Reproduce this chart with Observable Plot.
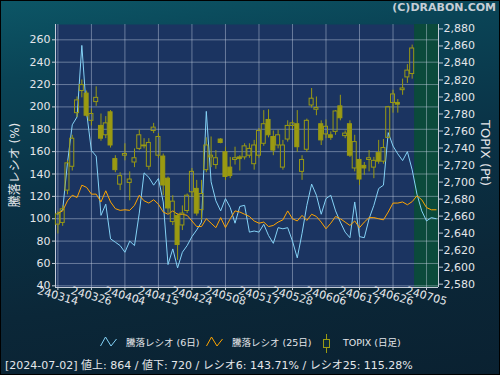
<!DOCTYPE html>
<html><head><meta charset="utf-8">
<script src="https://cdn.jsdelivr.net/npm/d3@7"></script>
<script src="https://cdn.jsdelivr.net/npm/@observablehq/plot@0.6"></script>
<style>
html,body{margin:0;padding:0;background:#000;}
#root{position:relative;width:500px;height:375px;overflow:hidden;
 background:linear-gradient(172deg,#0c5666 0%,#0a4456 18%,#0a3246 45%,#0b2738 72%,#0a2131 100%);
 box-shadow:inset 0 0 0 1px #000;
 font-family:"DejaVu Sans","Noto Sans CJK JP",sans-serif;color:#e4e6ea;}
#chart{position:absolute;left:0;top:0;}
#brand{position:absolute;right:4px;top:1px;font:bold 11px "DejaVu Sans",sans-serif;color:#c6ced6;line-height:13px;}
.lg{position:absolute;top:336px;font-size:9.5px;line-height:14px;white-space:nowrap;}
.ic{position:absolute;}
#footer{position:absolute;left:5px;top:358px;font-size:11px;line-height:15px;white-space:nowrap;}
</style></head><body>
<div id="root">
 <div id="chart"></div>
 <div id="brand">(C)DRABON.COM</div>
 <div id="legend"></div>
 <div id="footer"></div>
</div>
<script>
// ---------- data ----------
const dates = ["03-14","03-15","03-18","03-19","03-21","03-22","03-25","03-26","03-27","03-28","03-29",
"04-01","04-02","04-03","04-04","04-05","04-08","04-09","04-10","04-11","04-12","04-15","04-16","04-17","04-18","04-19",
"04-22","04-23","04-24","04-25","04-26","04-30","05-01","05-02","05-07","05-08","05-09","05-10","05-13","05-14","05-15",
"05-16","05-17","05-20","05-21","05-22","05-23","05-24","05-27","05-28","05-29","05-30","05-31","06-03","06-04","06-05",
"06-06","06-07","06-10","06-11","06-12","06-13","06-14","06-17","06-18","06-19","06-20","06-21","06-24","06-25","06-26",
"06-27","06-28","07-01","07-02","07-03","07-04","07-05","07-08","07-09"];
const tickLabels = ["240314","240326","240404","240415","240424","240508","240517","240528","240606","240617","240626","240705"];
const tickStep = 7;
const ratio6 = [104,108,150,184,191,255,195,161,156,103,113,82,79,76,70,80,76,105,141,137,130,136,115,59,73,56,70,76,84,90,
97,196,133,116,107,118,110,96,111,112,88,89,88,95,85,78,92,91,92,80,65,87,112,131,121,104,118,121,107,97,
88,83,115,84,83,100,112,127,130,177,165,158,152,160,143.71,122,107,98,101,100];
const ratio25 = [105,107,116,121,119,130,128,122,122,115,125,115,109,107.5,108,107.5,112,121,116,114,117,113,106,104,107,104,104,103,98,93,
93,100,96,92,101,92,100,107,106,104,102,98,96,97,93,94,97,99,107,100,98,103,98.5,104,102,97,91,96,102,100,
97,94,98,92,97,101,101,100,99,106,114,114,115,112.5,115.28,120.5,117,110,108,108];
const topixOpen  = [2650,2652,2690,2718,2781,2807,2804,2772,2794,2766,2755,2782,2727,2697,2731,2699,2723,2739,2743,2718,2760,2731,2730,2704,2653,
2660,2649,2666,2688,2692,2667,2714,2729,2720,2750,2735,2717,2726,2729,2729,2731,2721,2731,2745,2773,2753,2743,2717,2750,2766,
2768,2712,2738,2790,2785,2768,2756,2755,2759,2789,2754,2768,2716,2726,2719,2726,2717,2734,2724,2752,2793,2793,2808,2823,2827];
const topixHigh  = [2665,2672,2725,2755,2800,2820,2807,2786,2812,2780,2777,2784,2731,2711,2745,2712,2739,2761,2751,2751,2769,2757,2733,2706,2684,
2663,2672,2686,2716,2702,2702,2752,2753,2737,2751,2741,2729,2741,2731,2745,2745,2749,2763,2784,2785,2760,2761,2749,2772,2772,
2784,2731,2774,2810,2800,2772,2773,2759,2784,2802,2760,2772,2755,2727,2723,2737,2729,2749,2750,2789,2808,2797,2821,2838,2861];
const topixLow   = [2639,2648,2685,2713,2776,2799,2776,2766,2789,2748,2751,2740,2711,2690,2725,2678,2717,2737,2739,2714,2757,2728,2684,2663,2649,
2608,2643,2663,2682,2660,2655,2711,2717,2715,2745,2702,2704,2720,2713,2726,2728,2714,2728,2742,2752,2731,2739,2714,2747,2762,
2735,2702,2735,2787,2778,2743,2751,2749,2755,2772,2751,2729,2712,2696,2708,2712,2704,2721,2721,2751,2781,2781,2802,2816,2821];
const topixClose = [2662,2668,2722,2751,2796,2814,2778,2780,2799,2751,2769,2743,2714,2707,2733,2703,2728,2755,2742,2746,2764,2753,2696,2669,2677,
2626,2663,2684,2712,2663,2686,2743,2731,2728,2746,2706,2707,2728,2727,2742,2739,2743,2760,2768,2755,2737,2755,2743,2766,2769,
2741,2726,2772,2798,2787,2749,2765,2752,2783,2775,2757,2731,2747,2703,2716,2728,2725,2724,2740,2788,2803,2791,2810,2831,2857];
const leftTicks = [40,60,80,100,120,140,160,180,200,220,240,260];
const rightTicks = [2580,2600,2620,2640,2660,2680,2700,2720,2740,2760,2780,2800,2820,2840,2860,2880];
const leftDomain = [38.5, 273.7];     // 騰落レシオ (%)
const rightDomain = [2576.1, 2885.2]; // TOPIX (Pt)
const footerDate = "2024-07-02", advances = 864, declines = 720, r6Text = "143.71", r25Text = "115.28";
const seriesNames = ["騰落レシオ (6日)", "騰落レシオ (25日)", "TOPIX (日足)"];
const yTitleLeft = "騰落レシオ (%)", yTitleRight = "TOPIX (Pt)";

// ---------- style ----------
const C = {plot:"#1b3461", green:"#0b4a3b", grid:"#c8d2e4", axis:"#c4ccd8", text:"#e4e6ea",
           blue:"#84d2f6", orange:"#ffa500", candle:"#9a9a12"};

// ---------- build ----------
const n = dates.length;
const toV = p => leftDomain[0] + (p - rightDomain[0]) * (leftDomain[1]-leftDomain[0]) / (rightDomain[1]-rightDomain[0]);
const fromV = v => rightDomain[0] + (v - leftDomain[0]) * (rightDomain[1]-rightDomain[0]) / (leftDomain[1]-leftDomain[0]);
const candles = topixOpen.map((o,i) => ({i, open:o, high:topixHigh[i], low:topixLow[i], close:topixClose[i]}));
const up = candles.filter(d => d.close >= d.open), down = candles.filter(d => d.close < d.open);
const r6 = ratio6.map((v,i) => ({i, v})), r25 = ratio25.map((v,i) => ({i, v}));
const xTicks = tickLabels.map((_, k) => k*tickStep);
const lastCandle = candles.length - 1;
const xDomain = [-0.5, n - 0.5];
const fmt = d3.format(",");
const bw = 0.42;

const chart = Plot.plot({
  width: 500, height: 320,
  marginTop: 24, marginBottom: 33, marginLeft: 55, marginRight: 62,
  style: {background:"transparent", color:C.text, fontFamily:'"DejaVu Sans","Noto Sans CJK JP",sans-serif', fontSize:"11px"},
  x: {type:"linear", domain:xDomain, axis:null},
  y: {type:"linear", domain:leftDomain, axis:null},
  marks: [
    Plot.frame({fill:C.plot, stroke:null}),
    Plot.rect([{a:lastCandle+0.5, b:xDomain[1]}], {x1:"a", x2:"b", fill:C.green}),
    Plot.gridY(leftTicks, {stroke:C.grid, strokeOpacity:0.45, strokeWidth:1}),
    Plot.gridX(xTicks, {stroke:C.grid, strokeOpacity:0.45, strokeWidth:1}),
    Plot.ruleX(xDomain, {stroke:C.axis, strokeWidth:1}),
    Plot.ruleY([leftDomain[0]], {stroke:C.axis, strokeWidth:1}),
    Plot.axisY(leftTicks, {anchor:"left", tickSize:3, tickPadding:2, stroke:C.axis, fill:C.text, fontSize:11, tickFormat:d=>String(d), label:null}),
    Plot.axisY(rightTicks.map(toV), {anchor:"right", tickSize:4, tickPadding:1, stroke:C.axis, fill:C.text, fontSize:11, tickFormat:v=>fmt(Math.round(fromV(v))), label:null}),
    Plot.axisX(xTicks, {anchor:"bottom", tickSize:3, stroke:C.axis, tickFormat:()=>"", label:null}),
    Plot.text(xTicks, {x:d=>d, text:(d,k)=>tickLabels[k], frameAnchor:"bottom", dy:12, dx:-1, rotate:16, fontSize:11, fill:C.text, textAnchor:"middle"}),
    Plot.text([yTitleLeft], {text:d=>d, frameAnchor:"left", dx:-40, dy:9, rotate:-90, fontSize:12, fill:C.text, textAnchor:"middle"}),
    Plot.text([yTitleRight], {text:d=>d, frameAnchor:"right", dx:47, dy:-3, rotate:90, fontSize:13, fill:C.text, textAnchor:"middle"}),
    Plot.line(r6, {x:"i", y:"v", stroke:C.blue, strokeWidth:1}),
    Plot.line(r25, {x:"i", y:"v", stroke:C.orange, strokeWidth:1}),
    Plot.ruleX(candles, {x:"i", y1:d=>toV(d.high), y2:d=>toV(Math.max(d.open,d.close)), stroke:C.candle}),
    Plot.ruleX(candles, {x:"i", y1:d=>toV(Math.min(d.open,d.close)), y2:d=>toV(d.low), stroke:C.candle}),
    Plot.rect(down, {x1:d=>d.i-bw, x2:d=>d.i+bw, y1:d=>toV(d.open), y2:d=>toV(d.close), fill:C.candle, stroke:C.candle, strokeWidth:1}),
    Plot.rect(up, {x1:d=>d.i-bw, x2:d=>d.i+bw, y1:d=>toV(d.open), y2:d=>toV(d.close), fill:"none", stroke:C.candle, strokeWidth:1})
  ]
});
document.getElementById("chart").appendChild(chart);

// legend
const lg = document.getElementById("legend");
lg.innerHTML =
 `<svg class="ic" style="left:100px;top:336px" width="18" height="12"><polyline points="0.5,10 5.5,1 11,10 16.5,3" fill="none" stroke="${C.blue}" stroke-width="1"/></svg>` +
 `<span class="lg" style="left:126px">${seriesNames[0]}</span>` +
 `<svg class="ic" style="left:206px;top:336px" width="18" height="12"><polyline points="0.5,10 5.5,1 11,10 16.5,3" fill="none" stroke="${C.orange}" stroke-width="1"/></svg>` +
 `<span class="lg" style="left:232px">${seriesNames[1]}</span>` +
 `<svg class="ic" style="left:321px;top:334px" width="12" height="19"><line x1="5.5" y1="0" x2="5.5" y2="19" stroke="${C.candle}"/><rect x="2.5" y="5.5" width="6" height="8" fill="#0b2a3b" stroke="${C.candle}"/></svg>` +
 `<span class="lg" style="left:343px">${seriesNames[2]}</span>`;
document.getElementById("footer").textContent =
 `[${footerDate}] 値上: ${advances} / 値下: ${declines} / レシオ6: ${r6Text}% / レシオ25: ${r25Text}%`;
</script>
</body></html>
